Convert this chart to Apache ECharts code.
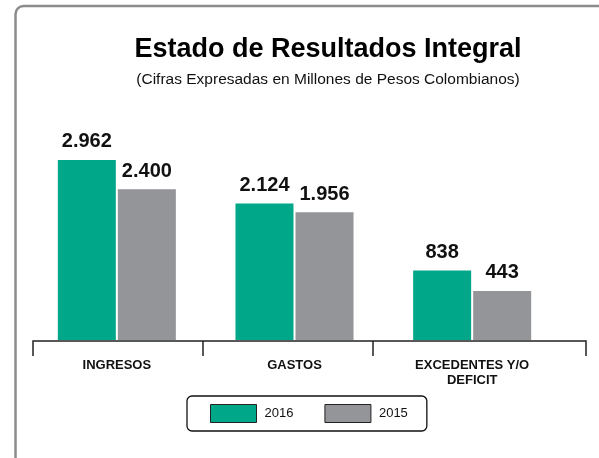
<!DOCTYPE html>
<html>
<head>
<meta charset="utf-8">
<script src="https://cdn.jsdelivr.net/npm/echarts@6/dist/echarts.min.js"></script>
<style>
  html, body { margin: 0; padding: 0; background: #fff; }
  #box { width: 599px; height: 458px; }
</style>
</head>
<body>
<div id="box"></div>
<script>
// datos del grafico
const categorias = ['INGRESOS', 'GASTOS', 'EXCEDENTES Y/O\nDEFICIT'];
const valores2016 = [2962, 2124, 838];
const valores2015 = [2400, 1956, 443];
const anios = ['2016', '2015'];

const fuente = "'Liberation Sans', Arial, sans-serif";

// separador de miles con punto
function miles(v) {
  return String(v).replace(/\B(?=(\d{3})+(?!\d))/g, '.');
}

const myChart = echarts.init(document.getElementById('box'));

const etiqueta = {
  show: true,
  position: 'top',
  distance: 8,
  fontFamily: fuente,
  fontWeight: 'bold',
  fontSize: 20,
  color: '#111',
  formatter: p => miles(p.value)
};

const option = {
  animation: false,
  textStyle: { fontFamily: fuente },
  title: {
    text: 'Estado de Resultados Integral',
    subtext: '(Cifras Expresadas en Millones de Pesos Colombianos)',
    left: 323,
    top: 31,
    textAlign: 'center',
    itemGap: 9,
    textStyle: { fontFamily: fuente, fontWeight: 'bold', fontSize: 27, color: '#000' },
    subtextStyle: { fontFamily: fuente, fontSize: 15.5, color: '#111' }
  },
  legend: {
    data: anios,
    left: 187,
    top: 396,
    icon: 'rect',
    itemWidth: 46,
    itemHeight: 18,
    itemGap: 31,
    padding: [8, 19, 8, 23],
    borderColor: '#111',
    borderWidth: 1.3,
    borderRadius: 5,
    itemStyle: { borderColor: '#222', borderWidth: 1 },
    textStyle: { fontFamily: fuente, fontSize: 13, color: '#111', padding: [0, 0, 0, 3] }
  },
  grid: {
    left: 28,
    right: 38,
    top: 158,
    bottom: 118
  },
  xAxis: {
    type: 'category',
    data: categorias,
    axisLine: { show: false },
    axisTick: { show: false },
    axisLabel: {
      margin: 18,
      fontFamily: fuente,
      fontWeight: 'bold',
      fontSize: 13,
      lineHeight: 15,
      color: '#111'
    }
  },
  yAxis: {
    type: 'value',
    show: false,
    min: -500,
    max: 3000,
    startValue: -500,
    splitLine: { show: false }
  },
  // marco y eje dibujados a mano
  graphic: [
    {
      type: 'rect',
      shape: { x: 15.5, y: 6, width: 640, height: 520, r: 8 },
      style: { fill: 'none', stroke: '#8c8c8c', lineWidth: 2.5 },
      silent: true
    },
    {
      type: 'polyline',
      shape: { points: [[33, 356], [33, 341], [586, 341], [586, 356]] },
      style: { fill: 'none', stroke: '#222', lineWidth: 1.5 },
      silent: true
    },
    {
      type: 'line',
      shape: { x1: 203, y1: 341, x2: 203, y2: 356 },
      style: { stroke: '#222', lineWidth: 1.5 },
      silent: true
    },
    {
      type: 'line',
      shape: { x1: 373, y1: 341, x2: 373, y2: 356 },
      style: { stroke: '#222', lineWidth: 1.5 },
      silent: true
    }
  ],
  series: [
    {
      name: '2016',
      type: 'bar',
      data: valores2016,
      barWidth: 58,
      barGap: '3.5%',
      itemStyle: { color: '#00A789' },
      label: etiqueta
    },
    {
      name: '2015',
      type: 'bar',
      data: valores2015,
      barWidth: 58,
      barGap: '3.5%',
      itemStyle: { color: '#939598' },
      label: etiqueta
    }
  ]
};

myChart.setOption(option);
window.onresize = function () {
  myChart.resize();
};
</script>
</body>
</html>
